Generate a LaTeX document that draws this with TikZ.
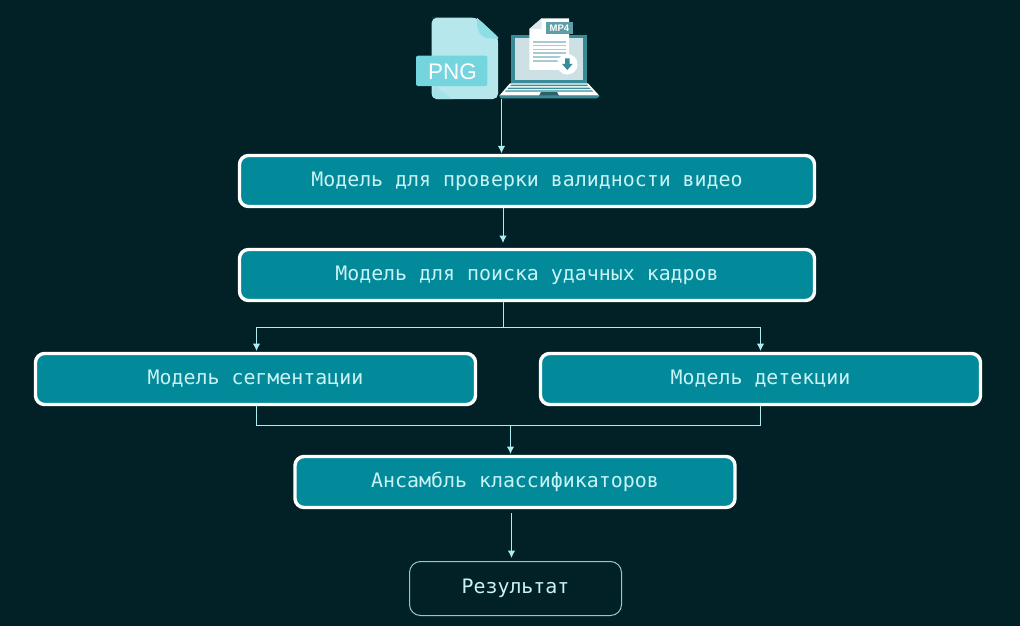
\documentclass[tikz,border=0pt]{standalone}
\usepackage{fontspec}
\setmainfont{Liberation Sans}
\newfontfamily\boxfont{DejaVu Sans Mono}
\usetikzlibrary{arrows.meta,calc}
\definecolor{bgc}{HTML}{012126}
\definecolor{tealbox}{HTML}{038A9A}
\definecolor{txtc}{HTML}{C9F3F5}
\definecolor{linec}{HTML}{A9EEF2}
\definecolor{filel}{HTML}{B5E7EC}
\definecolor{filed}{HTML}{8FDDE5}
\definecolor{tagc}{HTML}{74D5DF}
\definecolor{lapd}{HTML}{378C98}
\definecolor{laps}{HTML}{CDE0E4}
\definecolor{mptag}{HTML}{5F9EA8}
\tikzset{
  x=1pt,y=-1pt,
  procbox/.style={draw=white,line width=3.4pt,fill=tealbox,rounded corners=9pt,minimum height=51pt,inner sep=0pt,
    text=txtc,font=\boxfont\fontsize{19.9}{22}\selectfont,anchor=center},
  resbox/.style={draw=linec!85!black,line width=1pt,fill=bgc,rounded corners=11pt,minimum width=212pt,minimum height=54pt,inner sep=0pt,
    text=txtc,font=\boxfont\fontsize{19.9}{22}\selectfont,anchor=center},
  conn/.style={draw=linec,line width=1pt},
  arr/.style={conn,-{Latex[length=7.5pt,width=7.5pt]}},
}
\begin{document}
\begin{tikzpicture}
\useasboundingbox (0,0) rectangle (1020,626);
\fill[bgc] (0,0) rectangle (1020,626);
% PNG icon
\fill[filel,rounded corners=5pt] (477,17.7) -- (437,17.7) -- (431.7,17.7) -- (431.7,99) -- (498,99) -- (498,37) -- cycle;
\fill[filed] (477,17.7) -- (498,37) -- (498,39) -- (486,38) .. controls (480,36) and (477,30) .. (477,24) -- cycle;
\fill[filed!40!filel] (434,85) -- (452,99) -- (436,99) -- (432,96) -- cycle;
\fill[tagc,rounded corners=2pt] (416,55.7) rectangle (487.3,86);
\node[font=\fontsize{22.5}{24}\selectfont,text=white,inner sep=0pt] (pnglabel) at (452.5,71.5) {PNG};
% Laptop
\fill[lapd] (511.3,35) rectangle (587.3,84);
\fill[laps] (515,37.7) rectangle (583.3,80);
\fill[white] (510,83.3) -- (588,83.3) -- (599.3,95.7) -- (499.3,95.7) -- cycle;
\fill[lapd] (499.3,95.7) -- (599.3,95.7) -- (599.3,96.5) -- (597,98.3) -- (501,98.3) -- (499.3,96.5) -- cycle;
\fill[lapd] (511.5,84.5) -- (586.5,84.5) -- (588,86) -- (510,86) -- cycle;
\fill[lapd] (508.5,87.5) -- (589.5,87.5) -- (590.5,89) -- (507.5,89) -- cycle;
\fill[lapd] (506,90.3) -- (592,90.3) -- (593,91.5) -- (505,91.5) -- cycle;
\fill[lapd!70!black] (541,92) -- (557,92) -- (559,95.7) -- (539,95.7) -- cycle;
% document
\fill[white] (541.7,18.3) -- (569,18.3) -- (569,70) -- (529.3,70) -- (529.3,29) -- cycle;
\fill[laps!70!white] (541.7,18.3) -- (541.7,29) -- (529.3,29) -- cycle;
\foreach \yy in {41,44.8,48.6,52.4,56.2,60} {\fill[laps!75!lapd] (533,\yy) rectangle (566,\yy+1.6);}
\fill[mptag] (545.7,22.3) rectangle (573.3,34.3);
\node[font=\bfseries\fontsize{9.5}{10}\selectfont,text=white,inner sep=0pt] (mplabel) at (559.5,28.4) {MP4};
\fill[white] (567.3,64.3) circle (10.3);
\fill[lapd] (565,58.5) rectangle (569.6,64) -- (572.5,64) -- (567.3,70) -- (562.1,64) -- (565,64) -- cycle;
\coordinate (iconout) at (501.5,99);
% boxes
\node[procbox,minimum width=575pt] (a) at (527,181) {Модель для проверки валидности видео};
\node[procbox,minimum width=575pt] (b) at (527,275) {Модель для поиска удачных кадров};
\node[procbox,minimum width=440pt] (c) at (255.5,379) {Модель сегментации};
\node[procbox,minimum width=440pt] (d) at (760.5,379) {Модель детекции};
\node[procbox,minimum width=440pt] (e) at (515,482) {Ансамбль классификаторов};
\node[resbox] (f) at (515.5,588.5) {Результат};
% connector helper points
\coordinate (ain) at (iconout |- a.north);
\coordinate (aout) at ($(a.south west)!0.4575!(a.south east)$);
\coordinate (bout) at (503.5,302);
\coordinate (split) at (503.5,327);
\coordinate (cin) at (256.5,351);
\coordinate (din) at (760.5,351);
\coordinate (cout) at (256.5,406);
\coordinate (dout) at (760.5,406);
\coordinate (einbar) at (510.5,425.5);
\coordinate (eout) at (511.5,513);
% connectors
\draw[arr] (iconout) -- ($(ain)+(0,-0.5)$);
\draw[arr] (503,208) -- (503,243);
\draw[conn] (bout) -- (split);
\draw[arr] (split) -- (cin |- split) -- (cin);
\draw[arr] (split) -- (din |- split) -- (din);
\draw[conn] (cout) -- (cout |- einbar) -- (dout |- einbar) -- (dout);
\draw[arr] (einbar) -- (510.5,454);
\draw[arr] (eout) -- (511.5,558);
\end{tikzpicture}
\end{document}
